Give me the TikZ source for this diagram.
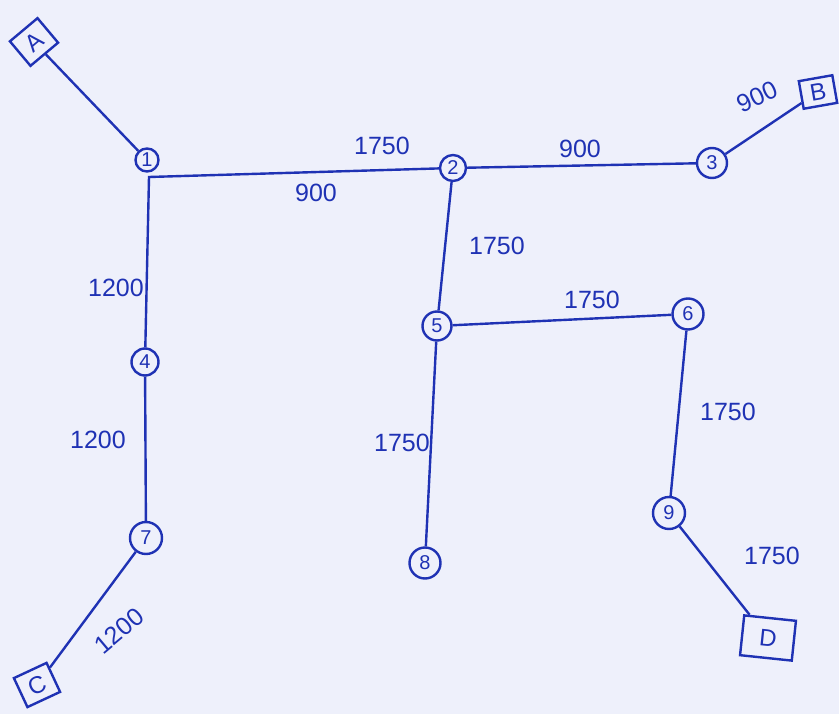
\documentclass[tikz,border=0pt]{standalone}
\usepackage{fontspec}
\setmainfont{Liberation Sans}
\begin{document}
\begin{tikzpicture}[x=1pt,y=-1pt,
  ink/.style={draw=inkblue, line width=2.4pt},
  junc/.style={ink, circle, inner sep=0pt, minimum size=#1, font=\fontsize{20}{20}\selectfont, text=inkblue},
  term/.style={ink, rectangle, inner sep=0pt, minimum width=36pt, minimum height=32pt, font=\fontsize{24}{24}\selectfont, text=inkblue},
  wt/.style={text=inkblue, font=\fontsize{25}{25}\selectfont, inner sep=1pt},
  edge/.style={draw=inkblue, line width=2.4pt}
]
\definecolor{inkblue}{HTML}{1F32B4}
\definecolor{paper}{HTML}{EEF0FB}
\fill[paper] (0,0) rectangle (839,714);
\useasboundingbox (0,0) rectangle (839,714);

% terminals
\node[term, rotate=40] (A) at (34,42) {A};
\node[term, rotate=10, minimum width=34pt, minimum height=28pt] (B) at (818,92) {B};
\node[term, rotate=25] (C) at (37,685) {C};
\node[term, rotate=-6, minimum width=52pt, minimum height=40pt] (D) at (768,638) {D};

% junction nodes
\node[junc=23pt] (n1) at (147,160) {1};
\node[junc=26pt] (n2) at (453,168) {2};
\node[junc=30pt] (n3) at (712,163) {3};
\node[junc=27pt] (n4) at (145,362) {4};
\node[junc=29pt] (n5) at (437,326) {5};
\node[junc=31pt] (n6) at (688,314) {6};
\node[junc=32pt] (n7) at (146,538) {7};
\node[junc=31pt] (n8) at (425,563) {8};
\node[junc=32pt] (n9) at (669,513) {9};
\coordinate (j1) at (149,177);

% connectors
\draw[edge] (A) -- (n1);
\draw[edge] (n4) -- (j1) -- (n2);
\draw[edge] (n2) -- (n3);
\draw[edge] (n3) -- (B);
\draw[edge] (n2) -- (n5);
\draw[edge] (n5) -- (n6);
\draw[edge] (n5) -- (n8);
\draw[edge] (n6) -- (n9);
\draw[edge] (n9) -- (D);
\draw[edge] (n4) -- (n7);
\draw[edge] (n7) -- (C);

% weights
\node[wt] (w12a) at (382,146) {1750};
\node[wt] (w12b) at (316,193) {900};
\node[wt] (w23) at (580,149) {900};
\node[wt, rotate=25] (w3B) at (757,97) {900};
\node[wt] (w25) at (497,246) {1750};
\node[wt] (w56) at (592,300) {1750};
\node[wt] (w58) at (402,443) {1750};
\node[wt] (w69) at (728,412) {1750};
\node[wt] (w9D) at (772,556) {1750};
\node[wt] (w14) at (116,288) {1200};
\node[wt] (w47) at (98,440) {1200};
\node[wt, rotate=40] (w7C) at (119,631) {1200};
\end{tikzpicture}
\end{document}
